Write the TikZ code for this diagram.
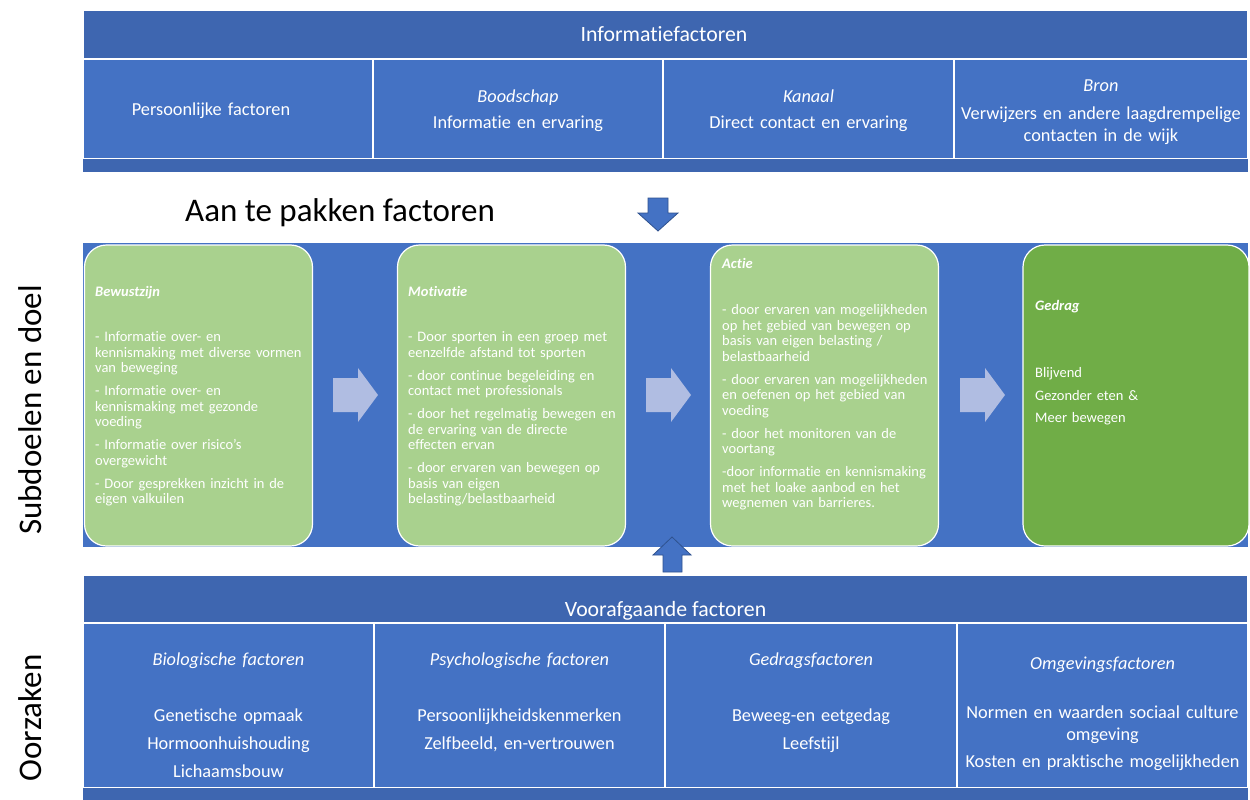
\documentclass[tikz,border=0pt]{standalone}
\usepackage{fontspec}
\setmainfont{Carlito}[Ligatures={TeX,CommonOff}]
\definecolor{hdrblue}{HTML}{3E66B0}
\definecolor{cellblue}{HTML}{4472C4}
\definecolor{lightgreen}{HTML}{A9D18E}
\definecolor{darkgreen}{HTML}{70AD47}
\definecolor{lavender}{HTML}{B0BDE2}
\definecolor{outlineblue}{HTML}{2F528F}
\newcommand\cellfont{\fontsize{18.3}{22}\selectfont}
\newcommand\hdrfont{\fontsize{21.8}{26}\selectfont}
\newcommand\boxfont{\fontsize{14.5}{15.5}\selectfont}
\newcommand\lblfont{\fontsize{33}{38}\selectfont}
\tikzset{
  hdrcell/.style={fill=hdrblue, draw=white, line width=1.2pt, inner sep=0},
  bandcell/.style={fill=hdrblue, inner sep=0},
  cell/.style={fill=cellblue, draw=white, line width=1.2pt, inner sep=0},
  ctext/.style={text=white, font=\cellfont, align=center, text width=285pt, anchor=base, inner sep=0},
  htext/.style={text=white, font=\hdrfont, anchor=base, inner sep=0},
  gbox/.style={fill=lightgreen, draw=white, line width=1.2pt, rounded corners=22pt, inner sep=0},
  gtitle/.style={text=white, font=\boxfont\bfseries\itshape, anchor=base west, inner sep=0},
  gtext/.style={text=white, font=\boxfont, align=left, text width=230pt, anchor=base west, inner sep=0},
  blockarrow/.style={fill=lavender},
  bluearrow/.style={fill=cellblue, draw=outlineblue, line width=0.8pt, line join=miter},
  lbl/.style={text=black, font=\lblfont, inner sep=0}
}
\begin{document}
\begin{tikzpicture}[x=1pt,y=-1pt]
\useasboundingbox[fill=white] (0,0) rectangle (1250,800);

% ---------- top table ----------
\node[hdrcell, minimum width=1165, minimum height=49] (infohdr) at (665.5,34.5) {};
\node[htext] (infohdrtxt) at (664,42) {Informatiefactoren};
\node[cell, minimum width=290, minimum height=100] (t1) at (228,109) {};
\node[cell, minimum width=290, minimum height=100] (t2) at (518,109) {};
\node[cell, minimum width=291, minimum height=100] (t3) at (808.5,109) {};
\node[cell, minimum width=294, minimum height=100] (t4) at (1101,109) {};
\node[bandcell, minimum width=1165, minimum height=13] (topband) at (665.5,165.5) {};
\node[ctext] (t1txt) at (211,115.5) {Persoonlijke factoren};
\node[ctext] (t2txt) at (518,102.5) {\textit{Boodschap}\\[4pt]Informatie en ervaring};
\node[ctext] (t3txt) at (808.5,102.5) {\textit{Kanaal}\\[4pt]Direct contact en ervaring};
\node[ctext] (t4txt) at (1101,91.5) {\textit{Bron}\\[6pt]Verwijzers en andere laagdrempelige\\contacten in de wijk};

% ---------- title and down arrow ----------
\node[lbl, anchor=base west] (aantxt) at (185,221.5) {Aan te pakken factoren};
\draw[bluearrow] (648,198) -- (668,198) -- (668,213) -- (678,213) -- (658,231) -- (638,213) -- (648,213) -- cycle;

% ---------- middle band ----------
\node[fill=cellblue, inner sep=0, minimum width=1165, minimum height=304] (midband) at (665.5,395) {};
\node[gbox, minimum width=228, minimum height=301] (b1) at (198.5,395.5) {};
\node[gbox, minimum width=228, minimum height=301] (b2) at (511.5,395.5) {};
\node[gbox, minimum width=228, minimum height=301] (b3) at (824.5,395.5) {};
\node[gbox, fill=darkgreen, minimum width=226, minimum height=301] (b4) at (1136,395.5) {};

\node[gtitle] (b1title) at (95,296.5) {Bewustzijn};
\node[gtext] (b1text) at (95,341.5) {- Informatie over- en\\kennismaking met diverse vormen\\van beweging\\[7.5pt]- Informatie over- en\\kennismaking met gezonde\\voeding\\[7.5pt]- Informatie over risico's\\overgewicht\\[7.5pt]- Door gesprekken inzicht in de\\eigen valkuilen};

\node[gtitle] (b2title) at (408,296.5) {Motivatie};
\node[gtext] (b2text) at (408,341.5) {- Door sporten in een groep met\\eenzelfde afstand tot sporten\\[7.5pt]- door continue begeleiding en\\contact met professionals\\[7.5pt]- door het regelmatig bewegen en\\de ervaring van de directe\\effecten ervan\\[7.5pt]- door ervaren van bewegen op\\basis van eigen\\belasting/belastbaarheid};

\node[gtitle] (b3title) at (722,268.5) {Actie};
\node[gtext] (b3text) at (722,314.5) {- door ervaren van mogelijkheden\\op het gebied van bewegen op\\basis van eigen belasting /\\belastbaarheid\\[7.5pt]- door ervaren van mogelijkheden\\en oefenen op het gebied van\\voeding\\[7.5pt]- door het monitoren van de\\voortang\\[7.5pt]-door informatie en kennismaking\\met het loake aanbod en het\\wegnemen van barrieres.};

\node[gtitle] (b4title) at (1035,310.5) {Gedrag};
\node[gtext] (b4text) at (1035,377.5) {Blijvend\\[7pt]Gezonder eten \&\\[7pt]Meer bewegen};

% block arrows between boxes
\fill[blockarrow] (333,378) -- (358,378) -- (358,368) -- (378,395) -- (358,422) -- (358,412) -- (333,412) -- cycle;
\fill[blockarrow] (646,378) -- (671,378) -- (671,368) -- (691,395) -- (671,422) -- (671,412) -- (646,412) -- cycle;
\fill[blockarrow] (960,378) -- (985,378) -- (985,368) -- (1005,395) -- (985,422) -- (985,412) -- (960,412) -- cycle;

% up arrow
\draw[bluearrow] (672,537) -- (691,555) -- (682,555) -- (682,572) -- (663,572) -- (663,555) -- (653,555) -- cycle;

% ---------- bottom table ----------
\node[hdrcell, minimum width=1165, minimum height=48] (voorhdr) at (665.5,599) {};
\node[htext] (voorhdrtxt) at (665.5,616) {Voorafgaande factoren};
\node[cell, minimum width=291, minimum height=165] (o1) at (228.5,705.5) {};
\node[cell, minimum width=291, minimum height=165] (o2) at (519.5,705.5) {};
\node[cell, minimum width=292, minimum height=165] (o3) at (811,705.5) {};
\node[cell, minimum width=291, minimum height=165] (o4) at (1102.5,705.5) {};
\node[bandcell, minimum width=1165, minimum height=12] (botband) at (665.5,794) {};
\node[ctext] (o1txt) at (228.5,665) {\textit{Biologische factoren}\\[34pt]Genetische opmaak\\[6pt]Hormoonhuishouding\\[6pt]Lichaamsbouw};
\node[ctext] (o2txt) at (519.5,665) {\textit{Psychologische factoren}\\[34pt]Persoonlijkheidskenmerken\\[6pt]Zelfbeeld, en-vertrouwen};
\node[ctext] (o3txt) at (811,665) {\textit{Gedragsfactoren}\\[34pt]Beweeg-en eetgedag\\[6pt]Leefstijl};
\node[ctext] (o4txt) at (1102.5,669) {\textit{Omgevingsfactoren}\\[27pt]Normen en waarden sociaal culture\\omgeving\\[5pt]Kosten en praktische mogelijkheden};

% ---------- side labels ----------
\node[lbl, rotate=90] (sublbl) at (30,410) {Subdoelen en doel};
\node[lbl, rotate=90] (oorlbl) at (30,718) {Oorzaken};
\end{tikzpicture}
\end{document}
